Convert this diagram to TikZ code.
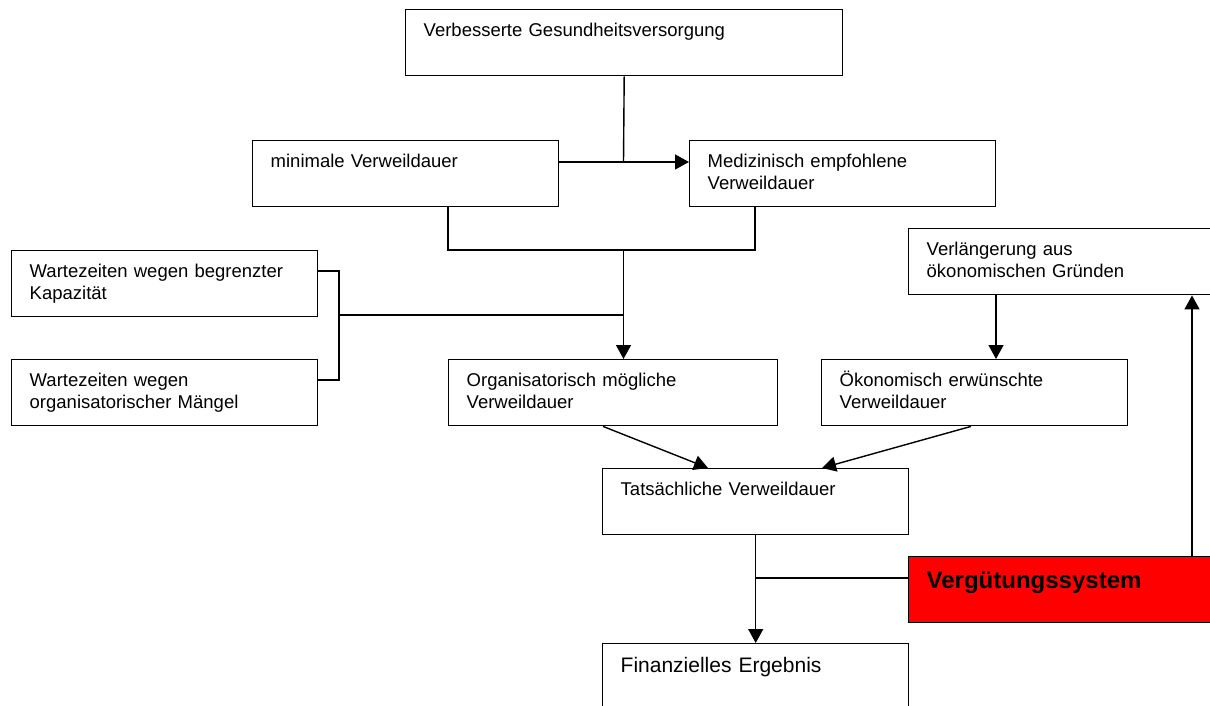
\documentclass[tikz,border=0pt]{standalone}
\usepackage{fontspec}
\setmainfont{Liberation Sans}
\usetikzlibrary{arrows.meta}

\begin{document}
\begin{tikzpicture}[x=1pt,y=-1pt,
	box/.style={draw, line width=1.4pt, anchor=north west, inner xsep=18pt, inner ysep=0pt, align=left,
		font=\fontsize{18.5}{21.5}\selectfont, text width=#1-36pt, text height=27pt, text depth=39pt},
	box/.default=306pt,
	link/.style={line width=1.4pt},
	arr/.style={line width=1.4pt, -{Triangle[length=14pt,width=15pt]}}]
	\useasboundingbox (0,0) rectangle (1210,706);
	\clip (0,0) rectangle (1210,706);
	\node[box=437pt] (ges) at (405,9) {Verbesserte Gesundheitsversorgung};
	\node[box] (minv) at (252,140) {minimale Verweildauer};
	\node[box] (medv) at (689,140) {Medizinisch empfohlene\\Verweildauer};
	\node[box] (wkap) at (11,250) {Wartezeiten wegen begrenzter\\Kapazität};
	\node[box=330pt] (verl) at (908,228) {Verlängerung aus\\ökonomischen Gründen};
	\node[box] (wmang) at (11,359) {Wartezeiten wegen\\organisatorischer Mängel};
	\node[box=329pt] (orgv) at (448,359) {Organisatorisch mögliche\\Verweildauer};
	\node[box] (oekv) at (821,359) {Ökonomisch erwünschte\\Verweildauer};
	\node[box] (tatv) at (602,468) {Tatsächliche Verweildauer};
	\node[box=330pt, fill=red, font=\fontsize{24}{27}\selectfont\bfseries, text height=32pt, text depth=34pt] (verg) at (908,556) {Vergütungssystem};
	\node[box, font=\fontsize{21}{25}\selectfont, text height=29pt, text depth=37pt] (fin) at (602,643) {Finanzielles Ergebnis};
	\coordinate (j1) at (623.5,162);
	\coordinate (j2) at (623.5,250);
	\coordinate (j3) at (339,315);
	\coordinate (j4) at (755,578);
	\draw[link] (ges.south) -- (j1);
	\draw[arr] (minv.east |- j1) -- (medv.west |- j1);
	\draw[link] ([xshift=196pt]minv.south west) |- (j2) -| ([xshift=66pt]medv.south west);
	\draw[arr] (j2) -- (orgv.north -| j2);
	\draw[link] ([yshift=-21pt]wkap.north east) -| (j3) |- ([yshift=-21pt]wmang.north east);
	\draw[link] (j3) -- (j3 -| j2);
	\draw[arr] ([xshift=88pt]verl.south west) -- ([xshift=175pt]oekv.north west);
	\draw[arr] ([xshift=155pt]orgv.south west) -- ([xshift=106pt]tatv.north west);
	\draw[arr] ([xshift=150pt]oekv.south west) -- ([xshift=220pt]tatv.north west);
	\draw[arr] (tatv.south) -- (fin.north);
	\draw[link] (j4) -- (j4 -| verg.west);
	\draw[arr] ([xshift=284pt]verg.north west) -- ([xshift=284pt]verl.south west);
\end{tikzpicture}
\end{document}
